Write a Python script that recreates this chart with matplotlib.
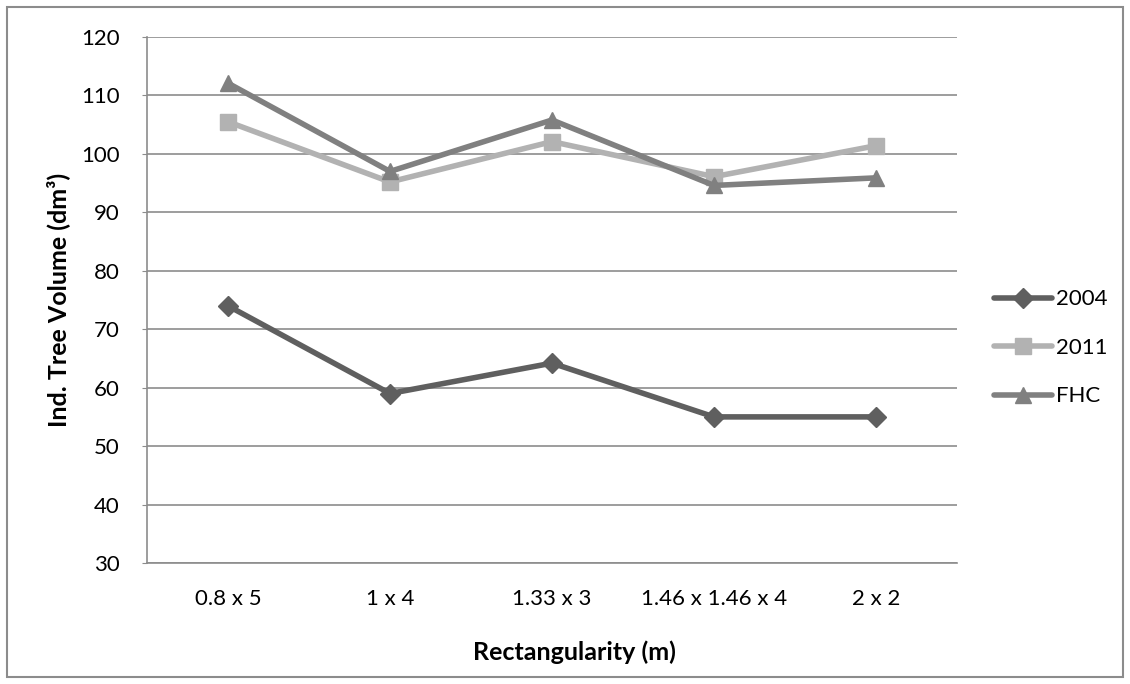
import matplotlib
matplotlib.use("Agg")
import matplotlib.pyplot as plt
from matplotlib.patches import Rectangle

categories = ["0.8 x 5", "1 x 4", "1.33 x 3", "1.46 x 1.46 x 4", "2 x 2"]
series_names = ["2004", "2011", "FHC"]
v2004 = [74.0, 59.0, 64.2, 55.0, 55.0]
v2011 = [105.5, 95.2, 102.1, 96.1, 101.4]
vfhc = [112.1, 97.0, 105.8, 94.6, 95.9]
yticks = [30, 40, 50, 60, 70, 80, 90, 100, 110, 120]

plt.rcParams['font.family'] = ['Lato', 'DejaVu Sans']

fig = plt.figure(figsize=(11.3, 6.84), dpi=100)
ax = fig.add_axes([147/1130, 1 - 563/684, (957-147)/1130, (563-37)/684])

x = list(range(len(categories)))
ax.plot(x, v2004, color="#5f5f5f", lw=4, marker="D", ms=10, label=series_names[0], solid_capstyle="round")
ax.plot(x, v2011, color="#b2b2b2", lw=4, marker="s", ms=11, label=series_names[1], solid_capstyle="round")
ax.plot(x, vfhc, color="#808080", lw=4, marker="^", ms=12, label=series_names[2], solid_capstyle="round")

ax.set_xlim(-0.5, len(categories) - 0.5)
ax.set_ylim(30, 120)
ax.set_yticks(yticks)
ax.set_xticks(x)
ax.set_xticklabels(categories)
ax.yaxis.grid(True, color="#8c8c8c", lw=1.2)
ax.set_axisbelow(True)
for s in ["top", "right"]:
    ax.spines[s].set_visible(False)
ax.spines["left"].set_color("#8c8c8c")
ax.spines["bottom"].set_color("#8c8c8c")
ax.spines["left"].set_linewidth(1.2)
ax.spines["bottom"].set_linewidth(1.2)
ax.tick_params(axis="y", length=3.6, color="#8c8c8c", labelsize=16, pad=16)
ax.tick_params(axis="x", length=0, labelsize=16, pad=19)

ax.set_ylabel("Ind. Tree Volume (dm³)", fontsize=18, fontweight="bold", va="center")
ax.yaxis.set_label_coords(-0.11, 0.5)
ax.set_xlabel("Rectangularity (m)", fontsize=18, fontweight="bold", va="center")
ax.xaxis.set_label_coords(0.528, -0.169)

leg = ax.legend(loc="center left", bbox_to_anchor=(1.035, 0.409), frameon=False,
                fontsize=16, handlelength=2.6, handletextpad=0.2, labelspacing=1.28,
                borderaxespad=0)

fig.patches.append(Rectangle((7/1130, 7/684), 1 - 14/1130, 1 - 14/684, transform=fig.transFigure,
                             fill=False, edgecolor="#8c8c8c", lw=1.5))

fig.savefig("out.png", dpi=100)
